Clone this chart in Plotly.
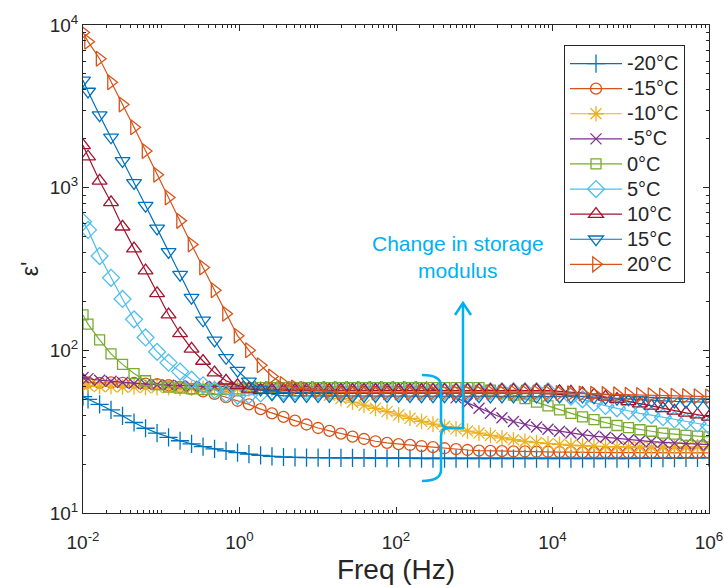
import plotly.graph_objects as go

# Frequency sweep (Hz)
freq_hz = [0.01, 0.0116, 0.0163, 0.0228, 0.0320, 0.0449, 0.0630, 0.0884, 0.124, 0.174,
           0.244, 0.342, 0.480, 0.673, 0.944, 1.32, 1.86, 2.60, 3.65, 5.12,
           7.19, 10.1, 14.1, 19.8, 27.8, 39.0, 54.7, 76.8, 108, 151,
           212, 297, 417, 585, 820, 1150, 1610, 2260, 3170, 4450,
           6250, 8760, 12300, 17200, 24200, 33900, 47600, 66700, 93600, 131000,
           184000, 258000, 362000, 508000, 713000, 1000000]

# Real permittivity at each temperature
eps_m20 = [52, 50, 46.5, 43, 39.5, 36, 33.2, 31, 29.2, 27.8,
           26.6, 25.6, 24.8, 24.1, 23.5, 23.0, 22.6, 22.3, 22.1, 22.0,
           21.9, 21.9, 21.8, 21.8, 21.8, 21.8, 21.7, 21.7, 21.7, 21.7,
           21.6, 21.6, 21.6, 21.6, 21.6, 21.6, 21.6, 21.6, 21.6, 21.6,
           21.6, 21.6, 21.6, 21.6, 21.6, 21.6, 21.6, 21.6, 21.6, 21.7,
           21.7, 21.7, 21.7, 21.8, 21.8, 21.9]
eps_m15 = [63, 63.5, 63, 63.5, 63, 63, 62.5, 62, 61, 59.5,
           58, 56, 54, 51.5, 49, 46.5, 43.5, 41, 39, 37,
           35, 33.3, 32, 30.8, 29.5, 28.5, 27.6, 27, 26.5, 26.2,
           25.8, 25.4, 25.0, 24.7, 24.4, 24.2, 24.1, 24.0, 23.9, 23.9,
           23.8, 23.8, 23.7, 23.7, 23.6, 23.6, 23.6, 23.5, 23.5, 23.5,
           23.5, 23.4, 23.4, 23.4, 23.4, 23.4]
eps_m10 = [61, 60.5, 60, 60, 59.5, 59.5, 59, 59, 59, 58.5,
           58.5, 58.5, 58.5, 58, 58, 58, 58, 58, 57.5, 57.5,
           57, 55.5, 53, 50.5, 48, 46, 44, 42, 40, 38.2,
           36.6, 35.2, 34, 32.9, 31.9, 31, 30, 29, 28.2, 27.6,
           27.1, 26.7, 26.4, 26.1, 25.9, 25.7, 25.6, 25.5, 25.5, 25.4,
           25.4, 25.4, 25.4, 25.4, 25.5, 25.6]
eps_m5 = [68, 67, 65.5, 64.5, 63.5, 62.5, 62, 61.5, 61, 60.5,
          60, 60, 60, 59.5, 59.5, 59.5, 59.5, 59.5, 59.5, 59.5,
          59.5, 59.5, 59.5, 59.5, 59.5, 59.5, 59.5, 59.5, 59.5, 59.5,
          59.5, 58, 55, 51, 47.5, 44, 41, 38.5, 36.5, 35,
          33.8, 32.7, 31.8, 31, 30.3, 29.7, 29.2, 28.7, 28.2, 27.8,
          27.5, 27.2, 26.9, 26.7, 26.5, 26.3]
eps_0 = [165, 145, 116, 95, 82, 72, 65, 61.5, 59.5, 58.5,
         58, 57.5, 57.5, 57.5, 58, 58.5, 59, 59, 59, 59,
         59, 59, 59, 59, 59, 59, 59, 59, 59, 59,
         59, 59, 59, 59, 59, 59, 57, 55, 53, 50.5,
         48, 45.5, 43, 41, 39, 37.5, 36, 34.5, 33.5, 32.5,
         31.8, 31, 30.5, 30, 29.7, 29.4]
eps_5 = [617, 550, 380, 279, 207, 155, 120, 98, 84, 74,
         66, 61, 57, 54, 52.5, 53, 54.3, 56, 56, 56,
         56, 56, 56, 56, 56, 56, 56, 56, 56, 56,
         56, 56, 56, 56, 56, 56, 56, 56, 56, 56,
         56, 56, 54, 52, 50, 47.5, 45.5, 44, 42.5, 41,
         40, 38.8, 37.6, 36.6, 35.5, 34.5]
eps_10 = [1820, 1550, 1100, 813, 575, 422, 309, 224, 166, 127,
          102, 86, 73, 65, 61, 58, 57, 57, 57, 57,
          57, 57, 57, 57, 57, 57, 57, 57, 57, 57,
          57, 57, 57, 57, 57, 57, 57, 57, 57, 57,
          57, 56.5, 56, 55.5, 54.5, 53.2, 51.7, 50.2, 48.5, 47,
          45.5, 44, 42.5, 41.3, 40.2, 39]
eps_15 = [4570, 3900, 2790, 2040, 1460, 1070, 776, 562, 403, 292,
          211, 153, 115, 90, 75, 64.5, 57.5, 53.7, 52.5, 52.5,
          52.5, 52.5, 52.5, 52.5, 52.5, 52.5, 52.5, 52.4, 52.4, 52.4,
          52.3, 52.3, 52.3, 52.2, 52.2, 52.2, 52.1, 52.1, 52.1, 52,
          52, 52, 52, 52, 52, 51.5, 51, 50.5, 50, 49.5,
          49, 48.8, 48.5, 48.3, 48.1, 48]
eps_20 = [9000, 7900, 6200, 4450, 3250, 2350, 1680, 1200, 870, 625,
          447, 323, 234, 168, 123, 100, 81, 69, 62, 59,
          57.5, 56.5, 56, 55, 55, 55, 55, 55, 55, 55,
          55, 55, 55, 55, 55, 55, 55, 55, 55, 55,
          55, 54.8, 54.6, 54.4, 54.2, 54, 53.8, 53.6, 53.4, 53.2,
          53, 52.8, 52.6, 52.4, 52.2, 52]

temp_labels = ["-20°C", "-15°C", "-10°C", "-5°C", "0°C", "5°C", "10°C", "15°C", "20°C"]
series = [eps_m20, eps_m15, eps_m10, eps_m5, eps_0, eps_5, eps_10, eps_15, eps_20]

x_tick_vals = [1e-2, 1e0, 1e2, 1e4, 1e6]
x_tick_text = ["10<sup>-2</sup>", "10<sup>0</sup>", "10<sup>2</sup>", "10<sup>4</sup>", "10<sup>6</sup>"]
y_tick_vals = [1e1, 1e2, 1e3, 1e4]
y_tick_text = ["10<sup>1</sup>", "10<sup>2</sup>", "10<sup>3</sup>", "10<sup>4</sup>"]

# Styling (MATLAB default colour order, open markers)
colors = ["#0072BD", "#D95319", "#EDB120", "#7E2F8E", "#77AC30",
          "#4DBEEE", "#A2142F", "#0072BD", "#D95319"]
symbols = ["cross-thin-open", "circle-open", "asterisk-open", "x-thin-open", "square-open",
           "diamond-open", "triangle-up-open", "triangle-down-open", "triangle-right-open"]
sizes = [13, 11, 13, 11, 10, 13, 13, 13, 13]

AXIS = "#262626"
NOTE = "#00B0F0"

fig = go.Figure()
for name, vals, c, s, ms in zip(temp_labels, series, colors, symbols, sizes):
    fig.add_trace(go.Scatter(
        x=freq_hz, y=vals, mode="lines+markers",
        name='<span style="font-size:20px">%s</span>' % name,
        line=dict(color=c, width=1.2),
        marker=dict(symbol=s, size=ms, color=c, line=dict(color=c, width=1.3)),
    ))

minor_x = [d * 10.0 ** e for e in range(-2, 6) for d in range(2, 10)] + [10.0 ** e for e in (-1, 1, 3, 5)]
minor_y = [d * 10.0 ** e for e in range(1, 4) for d in range(2, 10)]

axis_common = dict(
    type="log", showgrid=False, zeroline=False, automargin=False,
    showline=True, linecolor=AXIS, linewidth=1, mirror="allticks",
    ticks="inside", ticklen=6, tickcolor=AXIS, tickwidth=1,
    tickfont=dict(family="Arial", size=19, color=AXIS),
)

fig.update_xaxes(
    range=[-2, 6], tickvals=x_tick_vals, ticktext=x_tick_text,
    ticklabelstandoff=12,
    minor=dict(tickvals=minor_x, ticks="inside", ticklen=3, tickcolor=AXIS),
    title=dict(text="Freq (Hz)", font=dict(family="Arial", size=28, color=AXIS), standoff=8),
    **axis_common,
)
fig.update_yaxes(
    range=[1, 4], tickvals=y_tick_vals, ticktext=y_tick_text,
    minor=dict(tickvals=minor_y, ticks="inside", ticklen=3, tickcolor=AXIS),
    title=dict(text="ε'", font=dict(family="Arial", size=23, color=AXIS), standoff=4),
    **axis_common,
)


def to_paper(px, py):
    # pixel position inside the 724x585 canvas -> paper fraction of the plot area
    return (px - 83) / 626, (513 - py) / 488


def path_from(cmds):
    out = []
    for cmd, pts in cmds:
        out.append(cmd + " " + " ".join("%.4f,%.4f" % to_paper(*p) for p in pts))
    return " ".join(out)


brace = path_from([
    ("M", [(422, 375)]), ("Q", [(441, 375), (441, 386)]), ("L", [(441, 420)]),
    ("Q", [(441, 428), (449, 428)]), ("Q", [(441, 428), (441, 436)]),
    ("L", [(441, 470)]), ("Q", [(441, 481), (422, 481)]),
])
arrow = path_from([("M", [(449, 428)]), ("L", [(463, 428)]), ("L", [(463, 303)])])
head = path_from([("M", [(455, 315)]), ("L", [(463, 303)]), ("L", [(471, 315)])])

for p in (brace, arrow, head):
    fig.add_shape(type="path", path=p, xref="paper", yref="paper",
                  line=dict(color=NOTE, width=2.5))

tx, ty = to_paper(458, 257)
fig.add_annotation(x=tx, y=ty, xref="paper", yref="paper", showarrow=False,
                   text="Change in storage<br>modulus", align="center",
                   font=dict(family="Arial", size=21, color=NOTE))

lx, ly = to_paper(564, 45)
fig.update_layout(
    width=724, height=585,
    margin=dict(l=83, r=15, t=25, b=72),
    paper_bgcolor="white", plot_bgcolor="white",
    showlegend=True,
    legend=dict(x=lx, y=ly, xanchor="left", yanchor="top",
                bgcolor="white", bordercolor=AXIS, borderwidth=1,
                font=dict(family="Arial", size=17, color=AXIS),
                itemwidth=52, tracegroupgap=0),
)

fig.write_html("out.html")
